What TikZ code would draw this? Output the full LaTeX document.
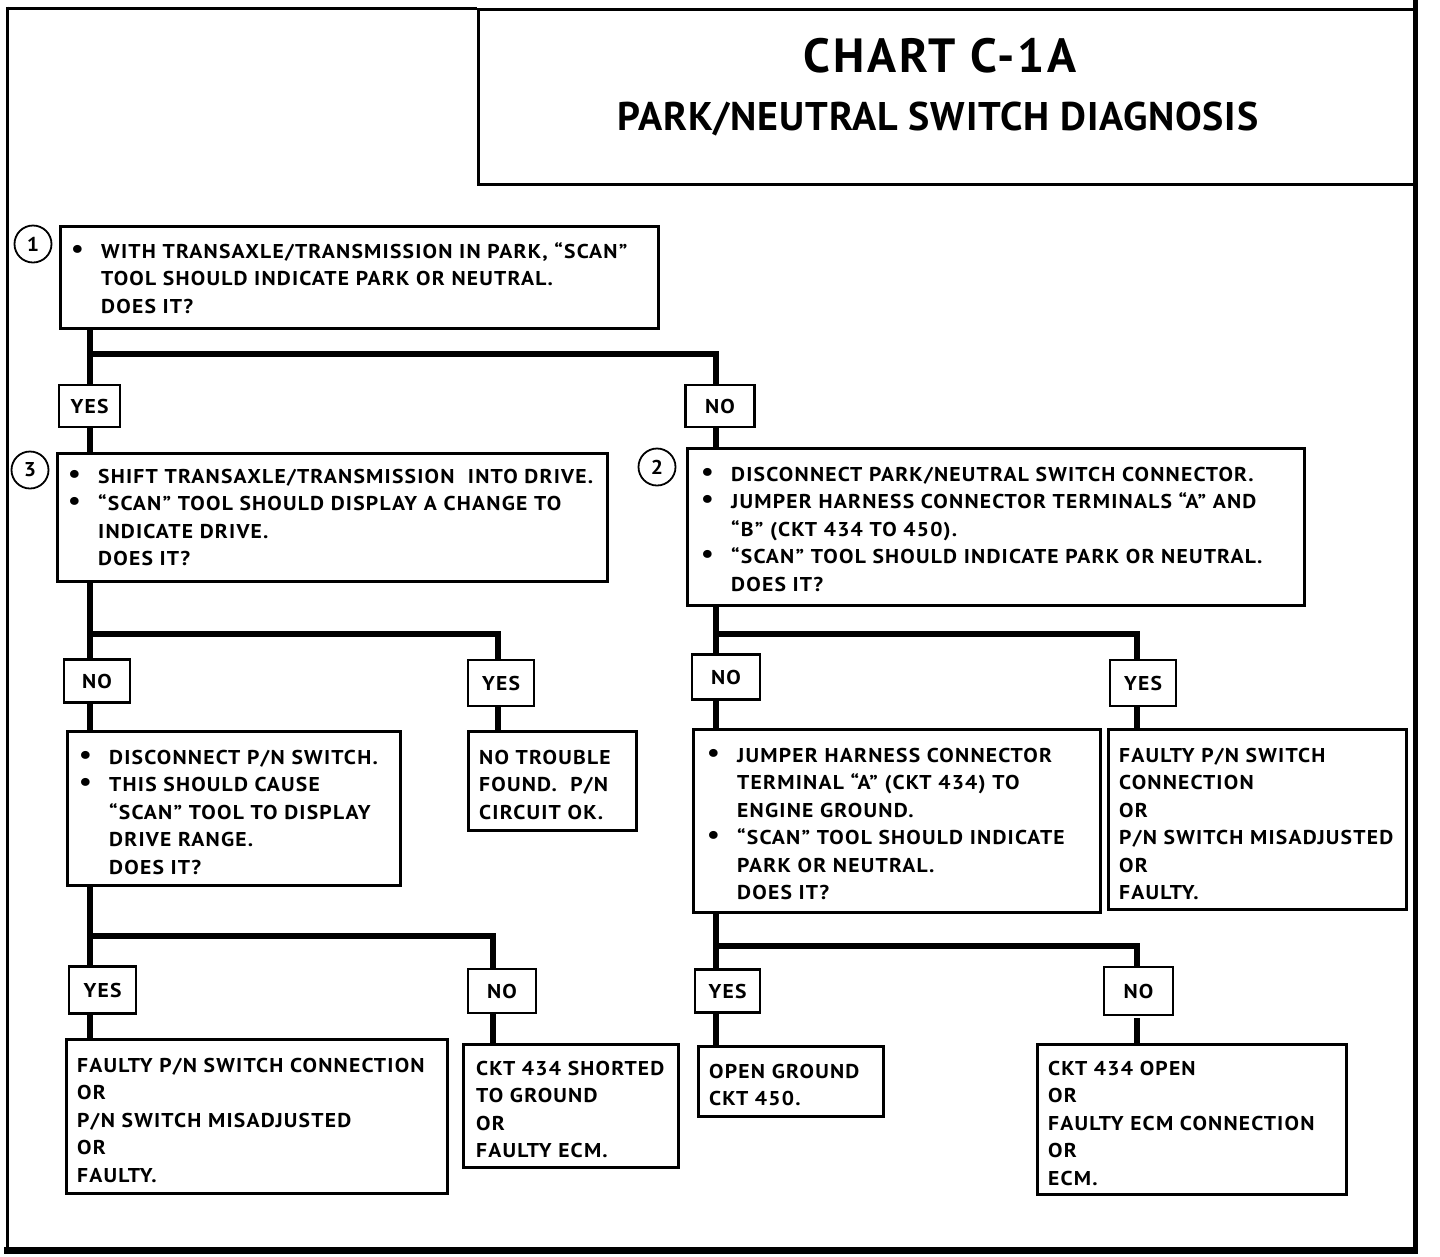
\documentclass[tikz,border=0pt]{standalone}
\usepackage{fontspec}
\setmainfont{PT Sans}
\newfontfamily\ptb{PT Sans}[UprightFont={* Bold}, LetterSpace=6, FakeStretch=1.08]
\newfontfamily\ptt{PT Sans}[UprightFont={* Bold}, LetterSpace=6]
\newfontfamily\pts{PT Sans}[UprightFont={* Bold}, LetterSpace=2]
\newcommand{\fs}{\rule{0pt}{16pt}}
\newcommand{\bl}[1]{\makebox[30pt][l]{\raisebox{1pt}{\scalebox{1.3}{•}}}#1}
\newcommand{\ind}[1]{\hspace*{30pt}#1}
\begin{document}
\begin{tikzpicture}[x=1pt,y=-1pt,
  frame/.style={line width=3pt},
  conn/.style={line width=6pt},
  box/.style={draw, line width=2.5pt, fill=white, anchor=north west, inner sep=0pt},
  lbl/.style={draw, line width=2.5pt, fill=white, inner sep=0pt, minimum height=43pt,
    font={\ptb\fontsize{20}{24}\selectfont}},
  txt/.style={anchor=north west, inner sep=0pt, align=left,
    font={\ptb\fontsize{20}{27.5}\selectfont}},
  num/.style={draw, circle, line width=1.8pt, minimum size=37pt, inner sep=0pt,
    font={\ptb\fontsize{20}{24}\selectfont}}]
\useasboundingbox (0,0) rectangle (1440,1256);
% frame
\draw[frame] (7,8) -- (477,8);
\draw[frame] (7,6.5) -- (7,1250);
\draw[line width=5pt] (1415,0) -- (1415,1254);
\draw[line width=7pt] (4,1250.5) -- (1413,1250.5);
\node[draw, line width=2.5pt, anchor=north west, minimum width=936pt, minimum height=175pt, inner sep=0pt] (title) at (477,8) {};
\node[anchor=base, inner sep=0pt, font={\ptt\fontsize{48}{50}\selectfont}] (t1) at (940,72) {CHART C-1A};
\node[anchor=base, inner sep=0pt, font={\pts\fontsize{40}{42}\selectfont}] (t2) at (938,130) {PARK/NEUTRAL SWITCH DIAGNOSIS};
% trunk coordinates
\coordinate (tL) at (90,0);
\coordinate (tR) at (716,0);
\coordinate (tA) at (498,0);
\coordinate (tB) at (493,0);
\coordinate (tC) at (1137,0);
\coordinate (j1) at (90,354);
\coordinate (j2) at (90,634);
\coordinate (j3) at (716,634);
\coordinate (j4) at (90,936);
\coordinate (j5) at (716,946);
% boxes
\node[box, minimum width=598pt, minimum height=102pt] (b1) at (59,225) {};
\node[box, minimum width=550pt, minimum height=128pt] (b3) at (56,452) {};
\node[box, minimum width=617pt, minimum height=157pt] (b2) at (686,447) {};
\node[box, minimum width=333pt, minimum height=154pt] (b4) at (66,730) {};
\node[box, minimum width=168pt, minimum height=99pt] (b5) at (467,730) {};
\node[box, minimum width=407pt, minimum height=183pt] (b6) at (692,728) {};
\node[box, minimum width=298pt, minimum height=180pt] (b7) at (1107,728) {};
\node[box, minimum width=381pt, minimum height=154pt] (b8) at (65,1038) {};
\node[box, minimum width=215pt, minimum height=123pt] (b9) at (462,1043) {};
\node[box, minimum width=185pt, minimum height=70pt] (b10) at (697,1045) {};
\node[box, minimum width=309pt, minimum height=150pt] (b11) at (1036,1043) {};
% labels
\node[lbl, minimum width=61pt, minimum height=42pt] (l1) at (89.5,406) {YES};
\node[lbl, minimum width=69pt, minimum height=42pt] (l2) at (720,406) {NO};
\node[lbl, minimum width=66pt] (l3) at (97,681) {NO};
\node[lbl, minimum width=66pt, minimum height=46pt] (l4) at (501,683) {YES};
\node[lbl, minimum width=68pt, minimum height=45pt] (l5) at (726,677) {NO};
\node[lbl, minimum width=66pt, minimum height=46pt] (l6) at (1143,683) {YES};
\node[lbl, minimum width=67pt, minimum height=47pt] (l7) at (102.5,990) {YES};
\node[lbl, minimum width=68pt, minimum height=44pt] (l8) at (502,991) {NO};
\node[lbl, minimum width=65pt] (l9) at (727.5,991) {YES};
\node[lbl, minimum width=69pt, minimum height=48pt] (l10) at (1138.5,991) {NO};
% connectors
\draw[conn] (b1.south -| tL) -- (l1.north -| tL);
\draw[conn] (j1) -| (l2.north -| tR);
\draw[conn] (l1.south -| tL) -- (b3.north -| tL);
\draw[conn] (l2.south -| tR) -- (b2.north -| tR);
\draw[conn] (b3.south -| tL) -- (l3.north -| tL);
\draw[conn] (j2) -| (l4.north -| tA);
\draw[conn] (l3.south -| tL) -- (b4.north -| tL);
\draw[conn] (l4.south -| tA) -- (b5.north -| tA);
\draw[conn] (b4.south -| tL) -- (l7.north -| tL);
\draw[conn] (j4) -| (l8.north -| tB);
\draw[conn] (l7.south -| tL) -- (b8.north -| tL);
\draw[conn] (l8.south -| tB) -- (b9.north -| tB);
\draw[conn] (b2.south -| tR) -- (l5.north -| tR);
\draw[conn] (j3) -| (l6.north -| tC);
\draw[conn] (l5.south -| tR) -- (b6.north -| tR);
\draw[conn] (l6.south -| tC) -- (b7.north -| tC);
\draw[conn] (b6.south -| tR) -- (l9.north -| tR);
\draw[conn] (j5) -| (l10.north -| tC);
\draw[conn] (l9.south -| tR) -- (b10.north -| tR);
\draw[conn] ([yshift=-2pt]l10.south -| tC) -- (b11.north -| tC);
% numbers
\node[num] (c1) at (33,244) {1};
\node[num] (c3) at (30,470) {3};
\node[num] (c2) at (657,467) {2};
% texts
\node[txt] (x1) at (71,242) {\fs\bl{WITH TRANSAXLE/TRANSMISSION IN PARK, “SCAN”}\\\ind{TOOL SHOULD INDICATE PARK OR NEUTRAL.}\\\ind{DOES IT?}};
\node[txt] (x3) at (68,467) {\fs\bl{SHIFT TRANSAXLE/TRANSMISSION\ \ INTO DRIVE.}\\\bl{“SCAN” TOOL SHOULD DISPLAY A CHANGE TO}\\\ind{INDICATE DRIVE.}\\\ind{DOES IT?}};
\node[txt] (x2) at (701,465) {\fs\bl{DISCONNECT PARK/NEUTRAL SWITCH CONNECTOR.}\\\bl{JUMPER HARNESS CONNECTOR TERMINALS “A” AND}\\\ind{“B” (CKT 434 TO 450).}\\\bl{“SCAN” TOOL SHOULD INDICATE PARK OR NEUTRAL.}\\\ind{DOES IT?}};
\node[txt] (x4) at (79,748) {\fs\bl{DISCONNECT P/N SWITCH.}\\\bl{THIS SHOULD CAUSE}\\\ind{“SCAN” TOOL TO DISPLAY}\\\ind{DRIVE RANGE.}\\\ind{DOES IT?}};
\node[txt] (x5) at (479,748) {\fs NO TROUBLE\\FOUND.\ \ P/N\\CIRCUIT OK.};
\node[txt] (x6) at (707,746) {\fs\bl{JUMPER HARNESS CONNECTOR}\\\ind{TERMINAL “A” (CKT 434) TO}\\\ind{ENGINE GROUND.}\\\bl{“SCAN” TOOL SHOULD INDICATE}\\\ind{PARK OR NEUTRAL.}\\\ind{DOES IT?}};
\node[txt] (x7) at (1119,746) {\fs FAULTY P/N SWITCH\\CONNECTION\\OR\\P/N SWITCH MISADJUSTED\\OR\\FAULTY.};
\node[txt] (x8) at (77,1056) {\fs FAULTY P/N SWITCH CONNECTION\\OR\\P/N SWITCH MISADJUSTED\\OR\\FAULTY.};
\node[txt] (x9) at (476,1059) {\fs CKT 434 SHORTED\\TO GROUND\\OR\\FAULTY ECM.};
\node[txt] (x10) at (709,1062) {\fs OPEN GROUND\\CKT 450.};
\node[txt] (x11) at (1048,1059) {\fs CKT 434 OPEN\\OR\\FAULTY ECM CONNECTION\\OR\\ECM.};
\end{tikzpicture}
\end{document}
